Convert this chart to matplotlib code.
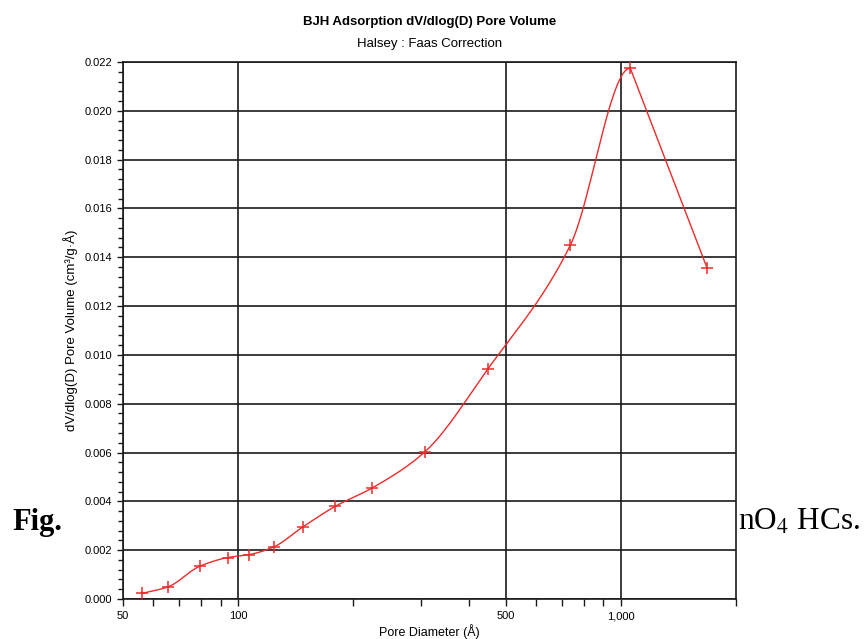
import numpy as np
import matplotlib
matplotlib.use("Agg")
import matplotlib.pyplot as plt
from matplotlib.ticker import FixedLocator, FixedFormatter, FuncFormatter

# BJH adsorption pore-size distribution
pore_diameter = [56.1, 65.6, 79.3, 94.0, 107.0, 123.7, 147.4, 179.0,
                 224.0, 307.0, 449.0, 738.0, 1058.0, 1680.0]
pore_volume = [0.00023, 0.00050, 0.00134, 0.00170, 0.00182, 0.00213, 0.00295,
               0.00379, 0.00455, 0.00602, 0.00942, 0.01450, 0.02175, 0.01356]

x_major = [50, 100, 500, 1000]
x_major_labels = ["50", "100", "500", "1,000"]
x_minor = [60, 70, 80, 90, 200, 300, 400, 600, 700, 800, 900, 2000]

plt.rcParams['font.family'] = ['Liberation Sans', 'DejaVu Sans']
plt.rcParams['mathtext.fontset'] = 'stix'

red = '#ee2a2a'


def smooth_line(x, y, n=40):
    # monotone cubic through the points (in log-x), only used to draw the line;
    # the last leg (after the peak) is drawn straight like the instrument plot
    x = np.asarray(x, float)
    y = np.asarray(y, float)
    h = np.diff(x)
    d = np.diff(y) / h
    m = np.zeros_like(y)
    for i in range(1, len(y) - 1):
        if d[i - 1] * d[i] > 0:
            w1 = 2 * h[i] + h[i - 1]
            w2 = h[i] + 2 * h[i - 1]
            m[i] = (w1 + w2) / (w1 / d[i - 1] + w2 / d[i])
    m[0] = d[0]
    xs, ys = [], []
    for i in range(len(h)):
        t = np.linspace(0, 1, n)
        if i == len(h) - 1:
            xs.append(x[i] + t * h[i])
            ys.append(y[i] + t * (y[i + 1] - y[i]))
            continue
        h00 = 2 * t**3 - 3 * t**2 + 1
        h10 = t**3 - 2 * t**2 + t
        h01 = -2 * t**3 + 3 * t**2
        h11 = t**3 - t**2
        xs.append(x[i] + t * h[i])
        ys.append(h00 * y[i] + h10 * h[i] * m[i] + h01 * y[i + 1] + h11 * h[i] * m[i + 1])
    return np.concatenate(xs), np.concatenate(ys)


fig = plt.figure(figsize=(8.64, 6.39), dpi=100)
ax = fig.add_axes([0.1424, 0.0626, 0.7095, 0.8404])

lx, ly = smooth_line(np.log10(pore_diameter), pore_volume)
ax.plot(10**lx, ly, color=red, linewidth=1.0, zorder=3)
ax.plot(pore_diameter, pore_volume, linestyle='none', marker='+', markersize=9,
        markeredgewidth=1.1, color=red, zorder=4)

ax.set_xscale('log')
ax.set_xlim(50, 2000)
ax.set_ylim(0, 0.022)

ax.xaxis.set_major_locator(FixedLocator(x_major))
ax.xaxis.set_major_formatter(FixedFormatter(x_major_labels))
ax.xaxis.set_minor_locator(FixedLocator(x_minor))
ax.xaxis.set_minor_formatter(FixedFormatter([""] * len(x_minor)))
ax.set_yticks(np.arange(0, 0.0221, 0.002))
ax.set_yticks(np.arange(0, 0.0221, 0.0004), minor=True)
ax.yaxis.set_major_formatter(FuncFormatter(lambda v, p: f"{v:.3f}"))

ax.grid(True, which='major', color='#1a1a1a', linewidth=1.2)
ax.set_axisbelow(True)
for s in ax.spines.values():
    s.set_linewidth(1.2)
    s.set_color('#1a1a1a')

ax.tick_params(which='major', direction='out', length=4, width=1.0, labelsize=8, color='#1a1a1a')
ax.tick_params(which='minor', direction='out', length=3.5, width=1.0, color='#1a1a1a')
ax.tick_params(axis='x', which='major', length=5, pad=4)
ax.tick_params(axis='x', which='minor', length=5)

ax.set_xlabel("Pore Diameter (Å)", fontsize=9, labelpad=2)
ax.set_ylabel("dV/dlog(D) Pore Volume (cm³/g·Å)", fontsize=9.5, labelpad=5)

fig.text(0.497, 0.965, "BJH Adsorption dV/dlog(D) Pore Volume", ha='center', va='center',
         fontsize=9.5, fontweight='bold')
fig.text(0.497, 0.931, "Halsey : Faas Correction", ha='center', va='center', fontsize=9.5)

# caption fragments visible around the chart
fig.text(12 / 864, 1 - 530 / 639, "Fig.", ha='left', va='baseline', fontsize=22,
         fontweight='bold', family='Liberation Serif')
fig.text(738 / 864, 1 - 530 / 639, "nO$_4$ HCs.", ha='left', va='baseline', fontsize=22.5,
         family='Liberation Serif')

fig.savefig("out.png", dpi=100)
